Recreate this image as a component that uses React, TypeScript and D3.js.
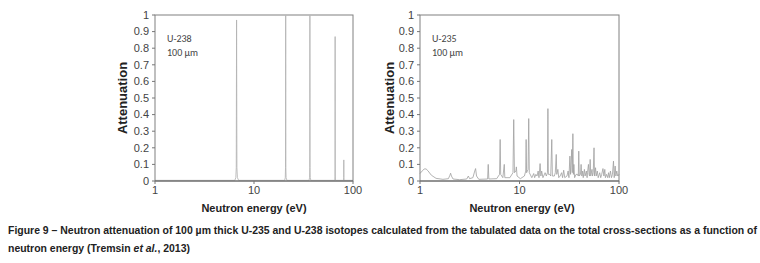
import React from "react";
import * as d3 from "d3";

const yTicks = [0, 0.1, 0.2, 0.3, 0.4, 0.5, 0.6, 0.7, 0.8, 0.9, 1];
const xTicks = [1, 10, 100];
const yTickLabels = ["0", "0.1", "0.2", "0.3", "0.4", "0.5", "0.6", "0.7", "0.8", "0.9", "1"];

// U-238 spectrum [energy eV, attenuation]
const u238: [number, number][] = [
  [1, 0.004], [6.4, 0.004], [6.55, 0.02], [6.62, 0.08], [6.67, 0.97], [6.72, 0.08], [6.8, 0.02], [7.0, 0.004],
  [20.4, 0.004], [20.7, 0.02], [20.82, 0.08], [20.9, 0.995], [20.98, 0.08], [21.1, 0.02], [21.5, 0.004],
  [36.0, 0.004], [36.4, 0.02], [36.6, 0.08], [36.7, 0.995], [36.8, 0.08], [37.0, 0.02], [37.5, 0.004],
  [65.5, 0.004], [65.85, 0.03], [66.0, 0.87], [66.15, 0.03], [66.5, 0.004],
  [80.4, 0.004], [80.65, 0.02], [80.75, 0.127], [80.85, 0.02], [81.1, 0.004], [100, 0.004],
];

// U-235 spectrum [energy eV, attenuation]
const u235: [number, number][] = [
  [1.0, 0.045], [1.05, 0.06], [1.1, 0.072], [1.15, 0.073], [1.2, 0.062], [1.3, 0.035], [1.45, 0.016], [1.7, 0.01],
  [1.93, 0.014], [2.0, 0.035], [2.03, 0.047], [2.07, 0.03], [2.15, 0.012], [2.5, 0.008],
  [2.95, 0.012], [3.06, 0.03], [3.15, 0.014], [3.4, 0.02], [3.55, 0.06], [3.62, 0.075], [3.7, 0.03], [3.9, 0.01],
  [4.78, 0.012], [4.85, 0.1], [4.92, 0.012], [5.9, 0.014],
  [6.3, 0.04], [6.39, 0.25], [6.47, 0.04], [6.8, 0.02], [7.03, 0.1], [7.12, 0.02], [8.0, 0.02],
  [8.6, 0.05], [8.75, 0.37], [8.9, 0.05], [9.2, 0.06], [9.3, 0.085], [9.45, 0.03], [10.2, 0.014],
  [11.2, 0.03], [11.55, 0.06], [11.66, 0.25], [11.78, 0.05], [12.2, 0.07], [12.38, 0.376], [12.55, 0.05],
  [13.3, 0.02], [13.9, 0.045], [14.2, 0.02], [14.6, 0.04], [15.0, 0.03], [15.4, 0.06], [15.7, 0.02],
  [16.1, 0.105], [16.4, 0.03], [16.7, 0.06], [17.2, 0.02], [18.1, 0.05], [18.6, 0.03],
  [19.1, 0.05], [19.3, 0.436], [19.5, 0.04], [20.2, 0.04], [20.6, 0.03], [21.1, 0.25], [21.4, 0.03],
  [22.4, 0.03], [22.9, 0.05], [23.4, 0.16], [23.7, 0.04], [24.3, 0.07], [24.8, 0.02], [25.6, 0.03],
  [26.5, 0.05], [27.1, 0.02], [27.8, 0.065], [28.5, 0.02], [30.0, 0.03], [30.8, 0.06], [31.4, 0.02],
  [32.1, 0.15], [32.6, 0.04], [33.5, 0.19], [33.9, 0.05], [34.4, 0.285], [34.8, 0.04], [35.2, 0.1],
  [35.8, 0.02], [37.0, 0.04], [38.3, 0.04], [39.0, 0.03], [39.4, 0.18], [39.9, 0.03], [41.0, 0.04],
  [41.6, 0.1], [42.3, 0.03], [43.1, 0.06], [43.7, 0.02], [44.9, 0.07], [45.6, 0.03], [47.0, 0.06],
  [47.8, 0.02], [48.2, 0.05], [49.3, 0.1], [50.0, 0.04], [50.6, 0.03], [51.3, 0.13], [52.0, 0.03],
  [53.5, 0.07], [54.2, 0.03], [55.1, 0.05], [56.1, 0.2], [56.8, 0.03], [58.1, 0.08], [59.0, 0.03],
  [60.5, 0.06], [61.8, 0.02], [64.0, 0.05], [65.5, 0.02], [67.0, 0.04], [69.0, 0.075], [70.5, 0.03],
  [72.0, 0.07], [73.0, 0.02], [75.0, 0.04], [77.0, 0.02], [78.5, 0.05], [80.0, 0.02], [82.0, 0.06],
  [84.0, 0.02], [86.0, 0.04], [88.0, 0.12], [89.5, 0.02], [91.5, 0.09], [93.0, 0.03], [95.0, 0.06],
  [97.0, 0.03], [100, 0.04],
];

const panels = [
  { left: 155, right: 353, label: "U-238", data: u238, yLabelX: 122, xLabelX: 254, stroke: "#b0b0b0" },
  { left: 420, right: 619, label: "U-235", data: u235, yLabelX: 389, xLabelX: 522, stroke: "#a0a0a0" },
];

const top = 15;
const bottom = 181;

function Panel({ p }: { p: typeof panels[number] }) {
  const x = d3.scaleLog().domain([1, 100]).range([p.left, p.right]);
  const y = d3.scaleLinear().domain([0, 1]).range([bottom, top]);
  const line = d3
    .line<[number, number]>()
    .x((d) => x(d[0]))
    .y((d) => y(d[1]));
  const tickFont = { fontFamily: "Liberation Sans, Arial, sans-serif", fontSize: 11, fill: "#444" };
  return (
    <g>
      <path d={line(p.data) || ""} fill="none" stroke={p.stroke} strokeWidth={0.8} />
      <rect x={p.left} y={top} width={p.right - p.left} height={bottom - top} fill="none" stroke="#808080" strokeWidth={1} />
      <line x1={p.left} x2={p.right} y1={bottom} y2={bottom} stroke="#666" strokeWidth={1.2} />
      {yTicks.map((t, i) => (
        <g key={"y" + i}>
          <line x1={p.left - 3} x2={p.left} y1={y(t)} y2={y(t)} stroke="#777" />
          <text x={p.left - 6} y={y(t)} dy="0.35em" textAnchor="end" {...tickFont}>
            {yTickLabels[i]}
          </text>
        </g>
      ))}
      {xTicks.map((t) => (
        <g key={"x" + t}>
          <line x1={x(t)} x2={x(t)} y1={bottom} y2={bottom + 3} stroke="#777" />
          <text x={x(t)} y={bottom + 13} textAnchor="middle" {...tickFont}>
            {String(t)}
          </text>
        </g>
      ))}
      <text x={p.left + 12} y={42} fontFamily="Carlito, Liberation Sans, sans-serif" fontSize={10} fill="#444">
        {p.label}
      </text>
      <text x={p.left + 12} y={56} fontFamily="Carlito, Liberation Sans, sans-serif" fontSize={10} fill="#444">
        100 µm
      </text>
      <text
        transform={`translate(${p.yLabelX},${(top + bottom) / 2}) rotate(-90)`}
        textAnchor="middle"
        dy="0.35em"
        fontFamily="Liberation Sans, Arial, sans-serif"
        fontWeight="bold"
        fontSize={13}
        fill="#222"
      >
        Attenuation
      </text>
      <text
        x={p.xLabelX}
        y={212}
        textAnchor="middle"
        fontFamily="Liberation Sans, Arial, sans-serif"
        fontWeight="bold"
        fontSize={11}
        fill="#222"
      >
        Neutron energy (eV)
      </text>
    </g>
  );
}

export default function App() {
  const capFont = {
    fontFamily: "Liberation Sans Narrow, Arial Narrow, Liberation Sans, sans-serif",
    fontWeight: "bold" as const,
    fontSize: 10.5,
    fill: "#222",
  };
  return (
    <svg width={760} height={263} style={{ position: "absolute", left: 0, top: 0, background: "#fff" }}>
      <rect width={760} height={263} fill="#fff" />
      {panels.map((p) => (
        <Panel key={p.label} p={p} />
      ))}
      <text x={8} y={234} {...capFont} textLength={749} lengthAdjust="spacingAndGlyphs">
        Figure 9 – Neutron attenuation of 100 µm thick U-235 and U-238 isotopes calculated from the tabulated data on the total cross-sections as a function of
      </text>
      <text x={8} y={252} {...capFont} textLength={182} lengthAdjust="spacingAndGlyphs">
        neutron energy (Tremsin <tspan fontStyle="italic">et al.</tspan>, 2013)
      </text>
    </svg>
  );
}
